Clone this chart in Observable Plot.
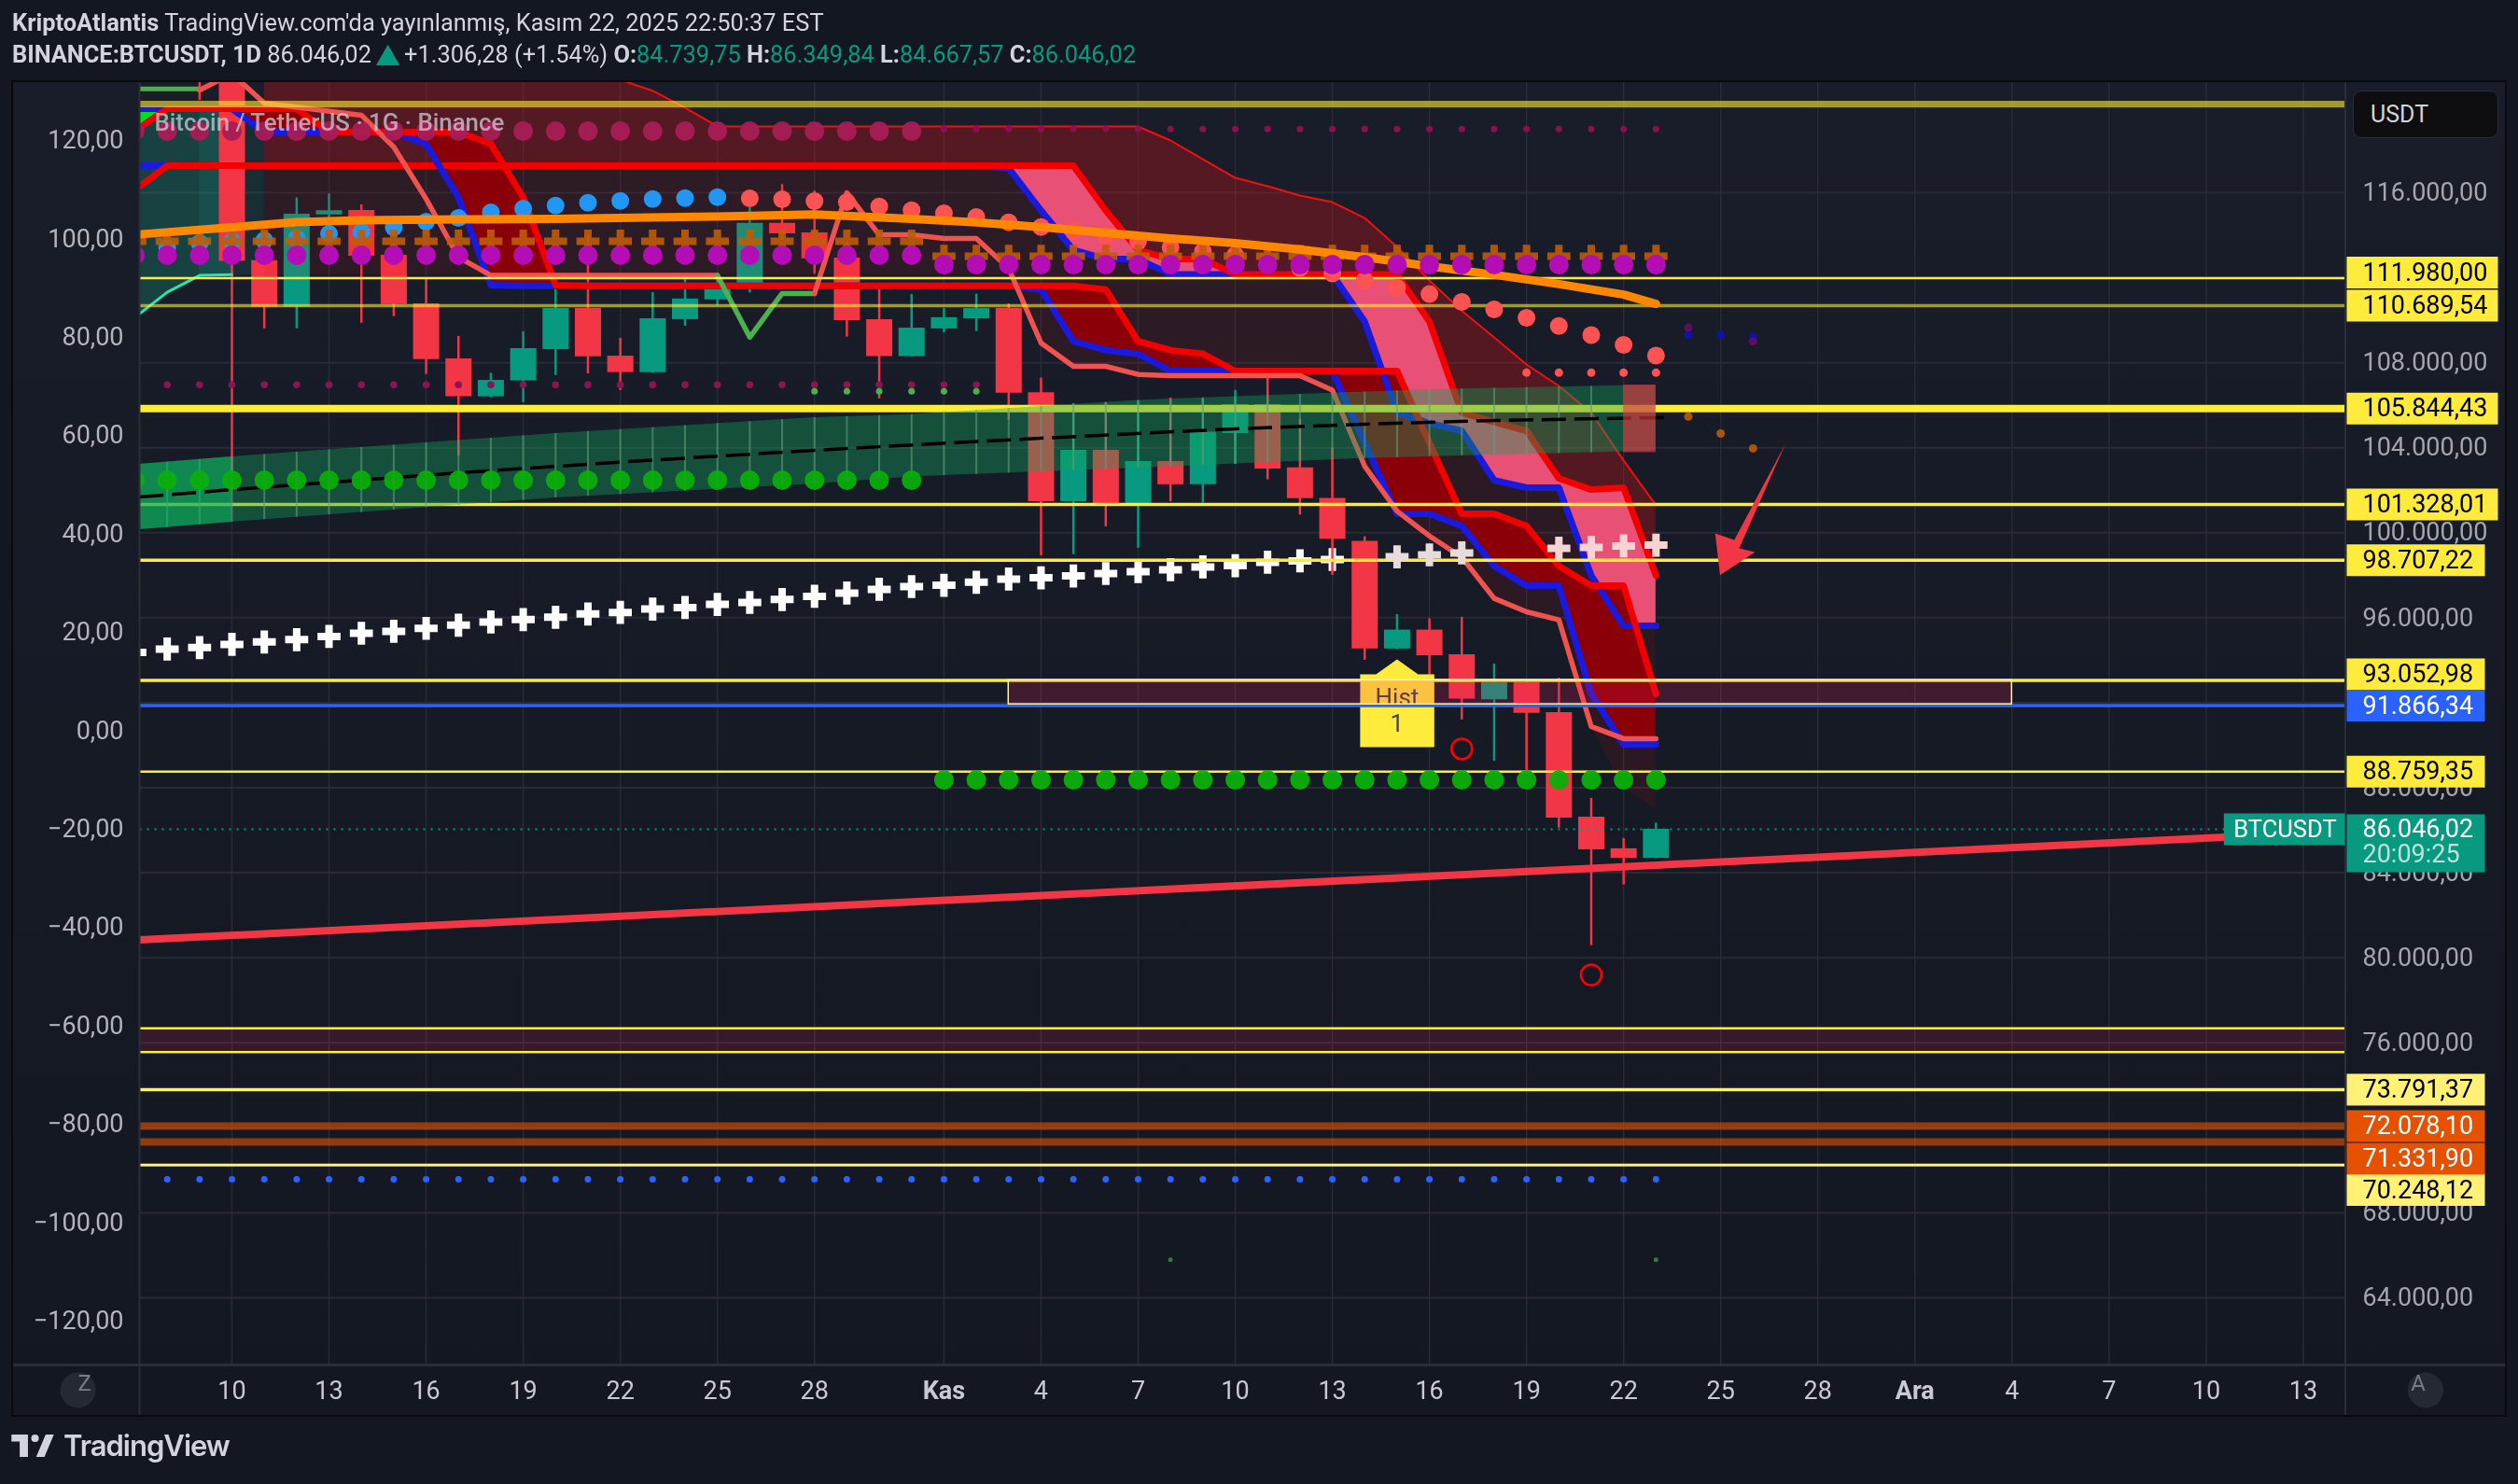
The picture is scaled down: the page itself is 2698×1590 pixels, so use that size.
<!DOCTYPE html>
<html lang="tr">
<head>
<meta charset="utf-8">
<title>BTCUSDT</title>
<script src="https://cdn.jsdelivr.net/npm/d3@7"></script>
<script src="https://cdn.jsdelivr.net/npm/@observablehq/plot@0.6"></script>
<style>
html,body{margin:0;padding:0;background:#131722;width:2698px;height:1590px;overflow:hidden;font-family:Roboto,sans-serif;color:#d1d4dc}
#hdr{height:86px;box-sizing:border-box;padding:7px 0 0 13px;font-size:25.4px;line-height:34px;white-space:nowrap}
#hdr b{font-weight:700}
#hdr .t{color:#089981}
#hdr .u{color:#089981;display:inline-block;transform:scale(1.7,1.5) translateY(-1px);margin:0 5px}
#chart{position:relative;margin-left:12px;width:2670px;height:1428px;border:2px solid #0a0a0c;background:linear-gradient(#191d29,#131722)}
#chart svg{display:block}
#usdt{position:absolute;left:2507px;top:9px;width:156px;height:51px;box-sizing:border-box;background:#0e0e10;border:1px solid #2a2e39;border-radius:9px;font-size:25px;line-height:49px;padding-left:18px;color:#d1d4dc}
#logo{position:absolute;left:12px;top:1530px;display:flex;align-items:center;gap:10px;font-size:31px;font-weight:600;font-family:Inter,sans-serif;letter-spacing:-1px;color:#d1d4dc}
</style>
</head>
<body>
<div id="hdr">
<div><b>KriptoAtlantis</b> TradingView.com'da yayınlanmış, Kasım 22, 2025 22:50:37 EST</div>
<div><b>BINANCE:BTCUSDT, 1D</b> 86.046,02<span class="u">▲</span>+1.306,28 (+1.54%) <b>O:</b><span class="t">84.739,75</span> <b>H:</b><span class="t">86.349,84</span> <b>L:</b><span class="t">84.667,57</span> <b>C:</b><span class="t">86.046,02</span></div>
</div>
<div id="chart"><div id="usdt">USDT</div></div>
<div id="logo"><svg width="46" height="24" viewBox="0 0 36 19"><path fill="#d1d4dc" d="M14 0H0v6h7v13h7zM28 19h-7l8-19h7z"/><circle fill="#d1d4dc" cx="20" cy="3.2" r="3.2"/></svg><span>TradingView</span></div>
<script>
// ---- time axis (day index: 1 = 1 Oct 2025)
const tickDays = [10,13,16,19,22,25,28,35,38,41,44,47,50,53,56,59,65,68,71,74];
const tickText = ["10","13","16","19","22","25","28","4","7","10","13","16","19","22","25","28","4","7","10","13"];
const monthDays = [32,62];
const monthText = ["Kas","Ara"];
const gridDays = [10,13,16,19,22,25,28,32,35,38,41,44,47,50,53,56,59,62,65,68,71,74];
// ---- price axes
const rightTicks = [116000,108000,104000,100000,96000,88000,84000,80000,76000,68000,64000];
const gridPrices = [120000,116000,112000,108000,104000,100000,96000,92000,88000,84000,80000,76000,72000,68000,64000];
const leftTicks = [120,100,80,60,40,20,0,-20,-40,-60,-80,-100,-120];
const leftZeroPrice = 90680, leftUnitPrice = 231.5;
// ---- candles
const candleDay   = [8,9,10,11,12,13,14,15,16,17,18,19,20,21,22,23,24,25,26,27,28,29,30,31,32,33,34,35,36,37,38,39,40,41,42,43,44,45,46,47,48,49,50,51,52,53,54];
const candleOpen  = [121700,123300,122000,112800,110620,114960,115165,113060,110770,108180,106400,107150,108620,110550,108310,107540,110030,110960,111610,114560,114110,112930,110030,108290,109590,110070,110550,106590,101460,103880,101280,103350,102260,104670,106030,103050,101620,99600,94530,95420,94260,92140,92940,91540,86620,85130,84680];
const candleClose = [123300,121700,112770,110620,114990,115150,113015,110745,108150,106400,107170,108670,110550,108280,107540,110070,111000,111650,114560,114070,112890,109980,108290,109630,110120,110550,106570,101460,103880,101280,103350,102260,104730,106030,103000,101600,99690,94530,95420,94210,92170,92940,91500,86570,85080,84680,86050];
const candleHigh  = [123500,124000,122500,113400,115760,115950,115430,113600,112000,109240,107500,109460,111710,114020,109150,111300,112110,112000,115480,116390,116080,113700,111580,111210,110550,111230,110770,107280,106080,106120,106200,106340,106330,106700,107500,105330,104000,99810,96150,95950,96020,93820,92990,93160,87500,85610,86340];
const candleLow   = [121600,120350,102000,109600,109600,113700,109860,110170,107450,103600,106350,106120,107400,107480,106700,107500,109720,110700,111280,113760,112180,109210,106300,108280,109410,109470,105300,98920,98970,100280,99270,101460,101400,103220,102490,100830,98000,94000,94500,92970,91190,89250,88590,86100,80570,83430,84660];
// ---- horizontal levels
const levelPrice = [110689.54,105844.43,101328.01,98707.22,93052.98,91866.34,88759.35,111980,73791.37,70248.12,72078.10,71331.90];
const levelLabelAt=[110689.54,105844.43,101328.01,98707.22,93340,91866.34,88759.35,112240,73791.37,69070,72078.10,70540];
const levelStroke= ["#ffeb3b","#ffeb3b","#ffeb3b","#ffeb3b","#ffeb3b","#2962ff","#ffeb3b","#ffeb3b","#fff176","#fff176","#e65100","#e65100"];
const levelWidth = [3.5,8,3.5,3.5,3.5,3.5,2.5,2.5,3.5,3,8,8];
const levelAlpha = [.6,1,1,1,1,1,1,1,1,1,.6,.6];
const labelFill  = ["#ffeb3b","#ffeb3b","#ffeb3b","#ffeb3b","#ffeb3b","#2962ff","#ffeb3b","#ffeb3b","#fff176","#fff176","#e65100","#e65100"];
const labelInk   = ["#000","#000","#000","#000","#000","#fff","#000","#000","#000","#000","#fff","#fff"];
const topOlivePrice = 120170;
const plumBandTop = 76675, plumBandBottom = 75560;
const lastPrice = 86046.02, lastLabelMid = 85390, countdownPrice = 84860;
const zoneDayStart = 34, zoneDayEnd = 65;
// ---- indicator lines by day 7..54
const bandDays = [7,8,9,10,11,12,13,14,15,16,17,18,19,20,21,22,23,24,25,26,27,28,29,30,31,32,33,34,35,36,37,38,39,40,41,42,43,44,45,46,47,48,49,50,51,52,53,54];
const redUpper = [116130,117270,117270,117270,117270,117270,117270,117270,117270,117270,117270,117270,117270,117270,117270,117270,117270,117270,117270,117270,117270,117270,117270,117270,117270,117270,117270,117270,117270,117270,115165,113300,112880,112880,112160,112160,112160,112160,112160,112160,109940,105650,105200,104800,102560,102030,102120,97990];
const blueUpper= [117270,117270,117270,117270,117270,117270,117270,117270,117270,117270,117270,117270,117270,117270,117270,117270,117270,117270,117270,117270,117270,117270,117270,117270,117270,117270,117270,117160,115165,113300,112880,112880,112160,112160,112160,112160,112160,112160,109940,105650,105150,104800,102470,102120,102120,97990,95620,95620];
const redLower = [118900,119950,119950,119950,119950,119950,118855,118855,118855,118855,118855,118300,115780,111650,111620,111620,111620,111620,111620,111620,111620,111620,111620,111620,111620,111620,111620,111620,111620,111620,111450,109015,108590,108425,107610,107610,107610,107610,107610,107610,104230,100890,100890,100320,98430,97510,97510,92420];
const blueLower= [119950,119950,119950,119950,118855,118855,118855,118855,118855,118285,115780,111650,111620,111620,111620,111620,111620,111620,111620,111620,111620,111620,111620,111620,111620,111620,111620,111620,111450,109015,108590,108425,107610,107610,107610,107610,107610,107610,104230,100890,100890,100320,98430,97510,97510,92420,90040,90040];
// ---- translucent cloud, day 11..54
const cloudDays = [11,12,13,14,15,16,17,18,19,20,21,22,23,24,25,26,27,28,29,30,31,32,33,34,35,36,37,38,39,40,41,42,43,44,45,46,47,48,49,50,51,52,53,54];
const cloudTop = [125000,124800,124500,124200,124000,123800,123500,123200,122900,122500,121900,121310,120800,120000,119120,119120,119120,119120,119120,119120,119120,119120,119120,119120,119120,119120,119120,119120,118460,117580,116700,116310,115870,115560,114810,113450,111870,110440,109190,107920,106910,105650,103400,101290];
const cloudBase = [112110,112110,112110,112110,112110,112110,112110,112110,112110,112110,112110,112110,112110,112110,112110,112110,112110,112110,112110,112110,112110,112110,112110,112110,108930,107830,107830,107450,107390,107390,107390,107390,107390,106710,103130,101020,99850,98850,96910,96280,95900,90880,88000,87000];
// ---- salmon / green signal line
const salmonDaysA = [9,10,11,14,15,16,17,18,25];
const salmonA = [120830,121600,120215,119650,118150,115710,112970,112110,112110];
const greenDays = [25,26,27,28];
const greenVals = [112110,109200,111260,111260];
const salmonDaysB = [28,29,30,31,32,33,34,35,36,37,38,39,43,44,45,46,47,48,49,50,51,52,53,54];
const salmonB = [111260,116000,114020,114020,113850,113850,112440,108930,107830,107830,107450,107390,107390,106710,103130,101020,99850,98850,96910,96280,95900,90880,90310,90310];
const cyanDays = [7.14,8,9,10];
const cyanVals = [110300,111320,112110,112150];
// ---- orange EMA
const orangeDays = [7.14,10,12,14,17,20,25,28,31,33,35,37,39,41,43,45,47,49,51,53,54];
const orangeVals = [114040,114375,114620,114700,114745,114770,114885,114980,114770,114610,114390,114110,113850,113630,113330,112970,112540,112140,111700,111210,110770];
// ---- green channel
const channelFill = [
  [7.14,103220,100145],[10,103570,100500],[20,104670,101640],[28,105415,102290],[31,105560,102630],
  [38,106230,103045],[39,106290,103110],[45,106620,103490],[47,106730,103580],[54,106950,103840]];
const midDays = [7.14,10,17,22,28,29,35,41,45,49,54.5];
const midVals = [101680,102030,102820,103325,103880,103970,104450,104890,105110,105280,105430];
const channelTickDays = [8,9,10,11,12,13,14,15,16,17,18,19,20,21,22,23,24,25,26,27,28,29,30,31,32,33,34,35,36,37,38,39,40,41,42,43,44,45,46,47,48,49,50,51,52];
// ---- plus markers
const whiteDays = [7,8,9,10,11,12,13,14,15,16,17,18,19,20,21,22,23,24,25,26,27,28,29,30,31,32,33,34,35,36,37,38,39,40,41,42,43,44];
const whiteVals = [94365,94525,94595,94745,94860,94970,95120,95270,95360,95500,95650,95800,95915,96025,96180,96250,96410,96480,96630,96720,96860,97010,97160,97335,97465,97530,97670,97820,97880,97970,98080,98170,98260,98390,98450,98610,98675,98740];
const paleDaysA = [46,47,48], paleValsA = [98870,98960,99050];
const paleDaysB = [51,52,53,54], paleValsB = [99270,99310,99380,99415];
const crossDaysA = [7,8,9,10,11,12,13,14,15,16,17,18,19,20,21,22,23,24,25,26,27,28,29,30,31];
const crossPriceA = 113720;
const crossDaysB = [32,33,34,35,36,37,38,39,40,41,42,43,44,45,46,47,48,49,50,51,52,53,54];
const crossPriceB = 113010;
// ---- dot rows
const magentaDaysA = crossDaysA, magentaPriceA = 113060;
const magentaDaysB = crossDaysB, magentaPriceB = 112620;
const blueDotDays = [8,9,10,11,12,13,14,15,16,17,18,19,20,21,22,23,24,25];
const blueDotVals = [113410,113630,113720,113760,113850,114070,114155,114375,114640,114815,115080,115250,115400,115525,115620,115700,115745,115795];
const coralDays = [26,27,28,29,30,31,32,33,34,35,36,37,38,39,40,41,42,43,44,45,46,47,48,49,50,51,52,53,54];
const coralVals = [115735,115690,115605,115560,115350,115180,115035,114860,114610,114390,114200,113980,113720,113430,113230,113060,112705,112455,112205,111870,111530,111230,110860,110510,110115,109730,109300,108840,108340];
const smallCoralDays = [50,51,52,53,54], smallCoralPrice = 107530;
const maroonTopDaysA = crossDaysA, maroonTopPriceA = 118900;
const maroonTopDaysB = crossDaysB, maroonTopPriceB = 118995;
const maroonMidDays = [8,9,10,11,12,13,14,15,16,17,18,19,20,21,22,23,24,25,26,27,28,29,30,31,32,33], maroonMidPrice = 106960;
const greenTinyDays = [28,29,30,31,32,33], greenTinyPrice = 106660;
const greenBigDaysA = crossDaysA, greenBigPriceA = 102470;
const greenBigDaysB = crossDaysB, greenBigPriceB = 88370;
const bottomBlueDays = [8,9,10,11,12,13,14,15,16,17,18,19,20,21,22,23,24,25,26,27,28,29,30,31,32,33,34,35,36,37,38,39,40,41,42,43,44,45,46,47,48,49,50,51,52,53,54], bottomBluePrice = 69575;
const farGreenDays = [39,54], farGreenPrice = 65790;
const navyDays = [55,56,57], navyVals = [109320,109320,109210];
const plumDays = [55,57], plumVals = [109650,109010];
const amberDays = [55,56,57], amberVals = [105470,104670,103970];
// ---- trend line, arrow, flag, rings
const trendDays = [7.14,71.56], trendVals = [80838,85672];
const arrowDays = [58,56.42,55.83,55.98,57.06,56.57,58];
const arrowVals = [104185,99660,99970,98000,99090,99270,104185];
const flagDays = [44.86,44.86,45.35,46,46.65,47.15,47.15,44.86];
const flagVals = [89910,93340,93340,94040,93340,93340,89910,89910];
const flagTextVals = [92240,91010];
const ringDays = [48,52], ringVals = [89825,79195];
const lastRectDays = [53,54], lastRectTop = 106950, lastRectBottom = 103770;

const xDomain = [7.145,75.3], yDomain = [60836,121183];
const tr = d3.formatLocale({decimal:",",thousands:".",grouping:[3],currency:["",""],minus:"−"});
const fmt = tr.format(",.2f");
const leftPrice = v => leftZeroPrice + v*leftUnitPrice;
const frameW = 2363.5;
const pts = (xs,ys) => xs.map((x,i)=>({x,y:ys[i]}));
const flat = (xs,p) => xs.map(x=>({x,y:p}));
const L = (xs,ys,stroke,w,o={}) => Plot.line(pts(xs,ys),{x:"x",y:"y",stroke,strokeWidth:w,clip:"frame",...o});
const D = (data,r,fill,o={}) => Plot.dot(data,{x:"x",y:"y",r,fill,clip:"frame",...o});
const P = (data,stroke,o={}) => Plot.dot(data,{x:"x",y:"y",symbol:"plus",r:8,stroke,strokeWidth:8,clip:"frame",...o});
const bandRows = bandDays.map((d,i)=>({d,ru:redUpper[i],bu:blueUpper[i],rl:redLower[i],bl:blueLower[i]}));
const cloudRows = cloudDays.map((d,i)=>({d,top:cloudTop[i],base:cloudBase[i],ru:redUpper[bandDays.indexOf(d)]}));
const candles = candleDay.map((day,i)=>({day,o:candleOpen[i],c:candleClose[i],h:candleHigh[i],l:candleLow[i]}));
const cColor = d => d.c>=d.o ? "#089981" : "#f23645";
const chanRows = channelFill.map(([d,t,b])=>({d,t,b}));
const chanAt = d => {const i=d3.bisectLeft(channelFill.map(r=>r[0]),d);const a=channelFill[Math.max(i-1,0)],b=channelFill[i];const k=(d-a[0])/((b[0]-a[0])||1);return {day:d,t:a[1]+(b[1]-a[1])*k,b:a[2]+(b[2]-a[2])*k};};
const levels = levelPrice.map((p,i)=>({p,at:levelLabelAt[i],s:levelStroke[i],w:levelWidth[i],a:levelAlpha[i],f:labelFill[i],ink:labelInk[i],t:fmt(p)}));
const wide = levels.filter(d=>d.p>=100000), narrow = levels.filter(d=>d.p<100000);
const labelFont = {fontSize:27,fontFamily:"Roboto"};

const plot = Plot.plot({
  width:2670, height:1428, marginLeft:135, marginRight:171.5, marginTop:0, marginBottom:54,
  style:{background:"transparent",fontFamily:"Roboto"},
  x:{type:"linear",domain:xDomain,axis:null},
  y:{domain:yDomain,axis:null},
  marks:[
    Plot.gridX(gridDays,{stroke:"#2a2e39",strokeOpacity:.9,strokeWidth:1.5}),
    Plot.gridY(gridPrices,{stroke:"#2a2e39",strokeOpacity:.9,strokeWidth:2}),
    // top-left teal wedge
    Plot.areaY(pts(cyanDays,cyanVals),{x:"x",y1:"y",y2:()=>blueLower[0],fill:"#17b090",fillOpacity:.25,clip:"frame"}),
    Plot.areaY(pts([9,11],[112110,112110]),{x:"x",y1:"y",y2:()=>blueLower[0],fill:"#17b090",fillOpacity:.12,clip:"frame"}),
    // white markers sit under the candles
    P(pts(whiteDays,whiteVals),"#ffffff"),
    // candles
    Plot.ruleX(candles,{x:"day",y1:"l",y2:"h",stroke:cColor,strokeWidth:2.5,clip:"frame"}),
    Plot.ruleX(candles,{x:"day",y1:"o",y2:"c",stroke:cColor,strokeWidth:28,clip:"frame"}),
    L([7.14,9],[120890,120890],"#4caf50",5,{strokeLinecap:"butt"}),
    L(cyanDays,cyanVals,"#26e6b0",3),
    // cloud
    Plot.areaY(cloudRows,{x:"d",y1:"top",y2:"ru",fill:"#ff1010",fillOpacity:.26,clip:"frame"}),
    Plot.areaY(cloudRows,{x:"d",y1:"ru",y2:"base",fill:"#ff1010",fillOpacity:.09,clip:"frame"}),
    L(cloudDays,cloudTop,"#f01010",2),
    // bands
    Plot.areaY(bandRows.filter(d=>d.d>=34),{x:"d",y1:"bu",y2:"ru",fill:"#e85075",clip:"frame"}),
    Plot.areaY(bandRows.filter(d=>d.d>=10),{x:"d",y1:"bl",y2:"rl",fill:"#8b0008",clip:"frame"}),
    Plot.areaY(bandRows.filter(d=>d.d<=8),{x:"d",y1:"bl",y2:"rl",fill:"#00e010",clip:"frame"}),
    L(bandDays,blueUpper,"#1a1adf",7),
    L(bandDays,redUpper,"#f20000",7),
    L(bandDays,blueLower,"#1a1adf",7),
    L(bandDays,redLower,"#f20000",7),
    L(salmonDaysA,salmonA,"#ef5350",5.5),
    L(greenDays,greenVals,"#4caf50",5.5),
    L(salmonDaysB,salmonB,"#ef5350",5.5),
    // Hist flag sits under the levels and the zone
    L(flagDays,flagVals,"none",0,{fill:"#ffeb3b"}),
    Plot.text([{x:46,y:flagTextVals[0],t:"Hist"},{x:46,y:flagTextVals[1],t:"1"}],{x:"x",y:"y",text:"t",fill:"#444",fontSize:26,clip:"frame"}),
    // levels
    Plot.ruleY([topOlivePrice],{stroke:"#ffeb3b",strokeOpacity:.6,strokeWidth:7}),
    ...levels.map(l=>Plot.ruleY([l.p],{stroke:l.s,strokeOpacity:l.a,strokeWidth:l.w})),
    Plot.rect([{a:zoneDayStart,b:zoneDayEnd}],{x1:"a",x2:"b",y1:()=>levelPrice[4],y2:()=>levelPrice[5]+60,fill:"#ec1e5c",fillOpacity:.2,stroke:"#fff59d",strokeWidth:1.5}),
    Plot.rectY([0],{y1:()=>plumBandTop,y2:()=>plumBandBottom,fill:"#ec1e5c",fillOpacity:.16}),
    Plot.ruleY([plumBandTop,plumBandBottom],{stroke:"#ffeb3b",strokeWidth:2.5}),
    // green channel (over candles and levels)
    Plot.ruleX(channelTickDays.map(chanAt),{x:"day",y1:"t",y2:"b",stroke:"#9a9a9a",strokeOpacity:.6,strokeWidth:2,clip:"frame"}),
    Plot.areaY(chanRows,{x:"d",y1:"t",y2:"b",fill:"#12a15a",fillOpacity:.4,clip:"frame"}),
    Plot.areaY(chanRows.slice(0,2),{x:"d",y1:"t",y2:"b",fill:"#0bb862",fillOpacity:.55,clip:"frame"}),
    L(midDays,midVals,"#000",3.5,{strokeDasharray:"26 9",strokeLinecap:"butt"}),
    Plot.rect([0],{x1:()=>lastRectDays[0],x2:()=>lastRectDays[1],y1:()=>lastRectTop,y2:()=>lastRectBottom,fill:"#f23645",fillOpacity:.6}),
    // dots
    D(flat(maroonTopDaysA,maroonTopPriceA),10.5,"#a81c55",{fillOpacity:.95}),
    D(flat(maroonTopDaysB,maroonTopPriceB),3.5,"#8a1050"),
    D(flat(maroonMidDays,maroonMidPrice),3.8,"#8a1454"),
    D(flat(greenTinyDays,greenTinyPrice),3.5,"#4caf50"),
    D(pts(blueDotDays,blueDotVals),9.5,"#2196f3"),
    D(pts(coralDays,coralVals),9.5,"#ff5252"),
    D(flat(smallCoralDays,smallCoralPrice),4.5,"#ff5252"),
    P(flat(crossDaysA,crossPriceA),"#c05c05",{strokeOpacity:.9}),
    P(flat(crossDaysB,crossPriceB),"#c05c05",{strokeOpacity:.9}),
    L(orangeDays,orangeVals,"#ff8800",9),
    D(flat(magentaDaysA,magentaPriceA),10.5,"#b50db5",{mixBlendMode:"screen"}),
    D(flat(magentaDaysB,magentaPriceB),10.5,"#b50db5",{mixBlendMode:"screen"}),
    D(flat(greenBigDaysA,greenBigPriceA),10.5,"#0ab00a",{fillOpacity:.92}),
    D(flat(greenBigDaysB,greenBigPriceB),10.5,"#0ab00a",{fillOpacity:.95}),
    P(pts(paleDaysA,paleValsA),"#e6dcdc"),
    P(pts(paleDaysB,paleValsB),"#f6d4d4"),
    D(flat(bottomBlueDays,bottomBluePrice),3.5,"#2962ff"),
    D(flat(farGreenDays,farGreenPrice),2.5,"#2e7d32"),
    D(pts(navyDays,navyVals),4.5,"#1010aa"),
    D(pts(plumDays,plumVals),4.5,"#5a1060"),
    D(pts(amberDays,amberVals),4.5,"#a8560f"),
    D(pts(ringDays,ringVals),11,"none",{stroke:"#ff0000",strokeWidth:2.5}),
    // last price + trend + arrow
    L([xDomain[0],trendDays[1]],[lastPrice,lastPrice],"#089981",2,{strokeDasharray:"2 6",strokeLinecap:"butt"}),
    L(trendDays,trendVals,"#f23645",8,{strokeLinecap:"butt"}),
    L(arrowDays,arrowVals,"none",0,{fill:"#f23645"}),
    // chart caption
    Plot.text(["Bitcoin / TetherUS · 1G · Binance"],{frameAnchor:"top-left",dx:16,dy:33,fill:"#d1d4dc",fillOpacity:.72,fontSize:25.8,textAnchor:"start",fontWeight:500}),
    // axes
    Plot.axisY(rightTicks,{anchor:"right",tickSize:0,tickPadding:18.5,tickFormat:fmt,fontSize:27,color:"#a3a6af",label:null}),
    Plot.axisY(leftTicks.map(leftPrice),{anchor:"left",tickSize:0,tickPadding:17,tickFormat:p=>fmt(Math.round((p-leftZeroPrice)/leftUnitPrice)),fontSize:27,color:"#b2b5be",label:null}),
    Plot.axisX(tickDays,{anchor:"bottom",tickSize:0,tickPadding:17,tickFormat:d=>tickText[tickDays.indexOf(d)],fontSize:27,color:"#c8cad2",label:null}),
    Plot.axisX(monthDays,{anchor:"bottom",tickSize:0,tickPadding:17,tickFormat:d=>monthText[monthDays.indexOf(d)],fontSize:27,fontWeight:700,color:"#c8cad2",label:null}),
    // separators
    Plot.ruleX([xDomain[0]],{stroke:"#2a2e39",strokeWidth:2,insetBottom:-54}),
    Plot.ruleX([xDomain[1]],{stroke:"#2a2e39",strokeWidth:2,insetBottom:-54}),
    Plot.ruleY([yDomain[0]],{stroke:"#2a2e39",strokeWidth:3,insetLeft:-135,insetRight:-171.5}),
    // price tags
    Plot.ruleY(wide,{y:"at",stroke:"f",strokeWidth:34,insetLeft:frameW+2,insetRight:-164}),
    Plot.ruleY(narrow,{y:"at",stroke:"f",strokeWidth:34,insetLeft:frameW+2,insetRight:-150}),
    Plot.text(levels,{y:"at",text:"t",fill:"ink",frameAnchor:"right",dx:18.5,textAnchor:"start",...labelFont}),
    Plot.ruleY([lastLabelMid],{stroke:"#089981",strokeWidth:62,insetLeft:frameW+2,insetRight:-150}),
    Plot.text([fmt(lastPrice)],{y:()=>lastPrice,frameAnchor:"right",dx:18.5,textAnchor:"start",fill:"#fff",...labelFont}),
    Plot.text(["20:09:25"],{y:()=>countdownPrice,frameAnchor:"right",dx:18.5,textAnchor:"start",fill:"#fff",fillOpacity:.72,...labelFont}),
    Plot.ruleY([lastPrice],{x1:()=>trendDays[1],x2:()=>xDomain[1],stroke:"#089981",strokeWidth:34}),
    Plot.text(["BTCUSDT"],{x:()=>trendDays[1],y:()=>lastPrice,dx:10,textAnchor:"start",fill:"#fff",fontSize:25.5}),
    // scale buttons
    Plot.dot([0],{frameAnchor:"bottom-left",dx:-66,dy:27,r:19,fill:"#2a2e39",fillOpacity:.8}),
    Plot.text(["Z"],{frameAnchor:"bottom-left",dx:-66,dy:27,fill:"#787b86",fontSize:24}),
    Plot.dot([0],{frameAnchor:"bottom-right",dx:86,dy:27,r:19,fill:"#2a2e39",fillOpacity:.8}),
    Plot.text(["A"],{frameAnchor:"bottom-right",dx:86,dy:27,fill:"#787b86",fontSize:24})
  ]
});
document.getElementById("chart").prepend(plot);
</script>
</body>
</html>
